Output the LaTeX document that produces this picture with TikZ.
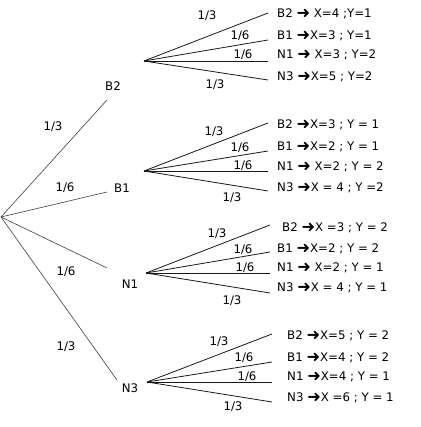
\documentclass[tikz,border=0pt]{standalone}
\usepackage{fontspec}
\usepackage{graphicx}
\setmainfont{DejaVu Sans}
\newfontfamily\dvarrowfont{DejaVu Sans}
\newcommand{\arr}{\raisebox{-1.3pt}{\scalebox{1.35}{\dvarrowfont\fontsize{12}{13}\selectfont ➜}}}
\begin{document}
\begin{tikzpicture}[x=1pt,y=-1pt,
  txt/.style={font=\fontsize{11.8}{13}\selectfont, inner sep=0pt},
  leaf/.style={txt, anchor=west},
  lvlone/.style={line width=0.6pt, draw=black!75},
  lvltwo/.style={line width=0.8pt, draw=black!90}]
\useasboundingbox[fill=white] (0,0) rectangle (420,427);
% root and first level
\coordinate (r) at (1,217);
\coordinate (e1) at (107,100);
\coordinate (e2) at (107,192);
\coordinate (e3) at (107,268);
\coordinate (e4) at (117,380);
\draw[lvlone] (r) -- (e1);
\draw[lvlone] (r) -- (e2);
\draw[lvlone] (r) -- (e3);
\draw[lvlone] (r) -- (e4);
\node[txt] (p1) at (53,127) {1/3};
\node[txt] (p2) at (65,188) {1/6};
\node[txt] (p3) at (66,272) {1/6};
\node[txt] (p4) at (66,347) {1/3};
\node[txt] (nB2) at (113,86) {B2};
\node[txt] (nB1) at (122,188) {B1};
\node[txt] (nN1) at (130,284) {N1};
\node[txt] (nN3) at (130,388) {N3};
% fan 1 (B2)
\coordinate (f1) at (144,61);
\coordinate (f1a) at (268,13);
\coordinate (f1b) at (268,40);
\coordinate (f1c) at (268,61);
\coordinate (f1d) at (268,80);
\foreach \e in {f1a,f1b,f1c,f1d} \draw[lvltwo] (f1) -- (\e);
\node[txt] (q1a) at (207,16) {1/3};
\node[txt] (q1b) at (240,36) {1/6};
\node[txt] (q1c) at (243,55) {1/6};
\node[txt] (q1d) at (215,85) {1/3};
\node[leaf] (t1a) at (277,14) {B2 \arr{} X=4 ;Y=1};
\node[leaf] (t1b) at (277,36) {B1 \arr{}X=3 ; Y=1};
\node[leaf] (t1c) at (277,55) {N1 \arr{} X=3 ; Y=2};
\node[leaf] (t1d) at (277,77) {N3 \arr{}X=5 ; Y=2};
% fan 2 (B1)
\coordinate (f2) at (144,171);
\coordinate (f2a) at (268,123);
\coordinate (f2b) at (268,151);
\coordinate (f2c) at (268,171);
\coordinate (f2d) at (268,191);
\foreach \e in {f2a,f2b,f2c,f2d} \draw[lvltwo] (f2) -- (\e);
\node[txt] (q2a) at (214,132) {1/3};
\node[txt] (q2b) at (240,148) {1/6};
\node[txt] (q2c) at (243,166) {1/6};
\node[txt] (q2d) at (232,198) {1/3};
\node[leaf] (t2a) at (277,125) {B2 \arr{}X=3 ; Y = 1};
\node[leaf] (t2b) at (277,147) {B1 \arr{}X=2 ; Y = 1};
\node[leaf] (t2c) at (277,167) {N1 \arr{} X=2 ; Y = 2};
\node[leaf] (t2d) at (277,188) {N3 \arr{}X = 4 ; Y =2};
% fan 3 (N1)
\coordinate (f3) at (146,273);
\coordinate (f3a) at (270,225);
\coordinate (f3b) at (270,252);
\coordinate (f3c) at (270,273);
\coordinate (f3d) at (270,293);
\foreach \e in {f3a,f3b,f3c,f3d} \draw[lvltwo] (f3) -- (\e);
\node[txt] (q3a) at (217,234) {1/3};
\node[txt] (q3b) at (243,250) {1/6};
\node[txt] (q3c) at (245,268) {1/6};
\node[txt] (q3d) at (232,301) {1/3};
\node[leaf] (t3a) at (282,228) {B2 \arr{}X =3 ; Y = 2};
\node[leaf] (t3b) at (277,249) {B1 \arr{}X=2 ; Y = 2};
\node[leaf] (t3c) at (277,268) {N1 \arr{} X=2 ; Y = 1};
\node[leaf] (t3d) at (277,288) {N3 \arr{}X = 4 ; Y = 1};
% fan 4 (N3)
\coordinate (f4) at (147,382);
\coordinate (f4a) at (272,334);
\coordinate (f4b) at (272,362);
\coordinate (f4c) at (272,382);
\coordinate (f4d) at (272,402);
\foreach \e in {f4a,f4b,f4c,f4d} \draw[lvltwo] (f4) -- (\e);
\node[txt] (q4a) at (219,342) {1/3};
\node[txt] (q4b) at (244,358) {1/6};
\node[txt] (q4c) at (247,377) {1/6};
\node[txt] (q4d) at (233,407) {1/3};
\node[leaf] (t4a) at (287,336) {B2 \arr{}X=5 ; Y = 2};
\node[leaf] (t4b) at (287,358) {B1 \arr{}X=4 ; Y = 2};
\node[leaf] (t4c) at (287,377) {N1 \arr{}X=4 ; Y = 1};
\node[leaf] (t4d) at (287,398) {N3 \arr{}X =6 ; Y = 1};
\end{tikzpicture}
\end{document}
